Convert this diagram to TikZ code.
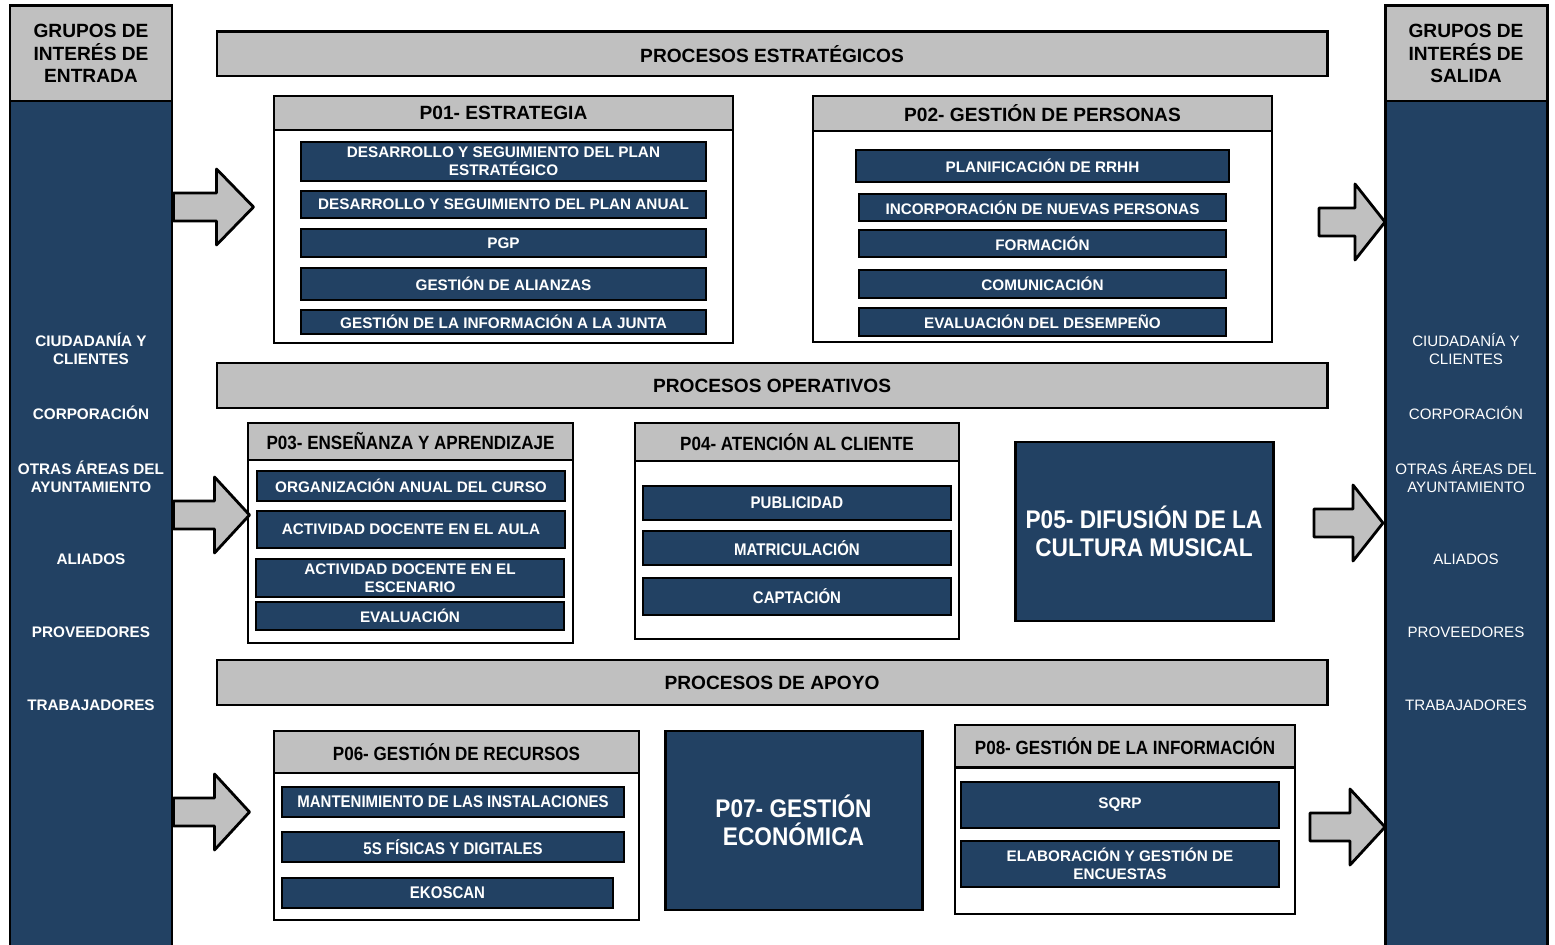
\documentclass[tikz,border=0pt]{standalone}
\usepackage{fontspec}
\setmainfont{Liberation Sans}
\newfontfamily\narrowsf[FakeStretch=0.89]{Liberation Sans}

\definecolor{mapblue}{RGB}{34,65,99}
\definecolor{mapgray}{RGB}{192,192,192}

\tikzset{
  sz/.style 2 args={minimum width=#1*0.02cm, minimum height=#2*0.02cm},
  bar/.style={draw, line width=1.7pt, fill=mapgray, inner sep=0pt, font=\bfseries\fontsize{10.9}{12}\selectfont},
  colhead/.style={bar, align=center, font=\bfseries\fontsize{10.9}{12.8}\selectfont},
  colbody/.style={draw, line width=1.7pt, fill=mapblue, inner sep=0pt},
  grphead/.style={draw, line width=1.6pt, fill=mapgray, inner sep=0pt, font=\bfseries\fontsize{10.9}{12}\selectfont},
  narrowhead/.style={grphead, font=\narrowsf\bfseries\fontsize{10.9}{12}\selectfont},
  grpbody/.style={draw, line width=0.9pt, fill=white, inner sep=0pt},
  item/.style={draw, line width=1.1pt, fill=mapblue, text=white, inner sep=0pt, align=center, font=\bfseries\fontsize{8.7}{10.4}\selectfont},
  narrowitem/.style={item, font=\narrowsf\bfseries\fontsize{9.6}{11}\selectfont},
  bigproc/.style={draw, line width=1.7pt, fill=mapblue, text=white, inner sep=0pt, align=center, font=\narrowsf\bfseries\fontsize{14.5}{16}\selectfont},
  inlabel/.style={text=white, align=center, font=\bfseries\fontsize{8.7}{10.2}\selectfont},
  outlabel/.style={text=white, align=center, font=\fontsize{8.6}{10.2}\selectfont},
  blockarr/.style={draw, line width=1.6pt, fill=mapgray, line join=round},
}

% flecha gruesa: inicio, largo del cuerpo, largo de la punta
\newcommand\bigarrow[3]{%
  \draw[blockarr] (#1) ++(0,-14) -- ++(#2,0) -- ++(0,-24) -- ++(#3,38)
    -- ++(-#3,38) -- ++(0,-24) -- ++(-#2,0) -- cycle;}

\begin{document}
\begin{tikzpicture}[x=0.02cm, y=-0.02cm]
  \useasboundingbox (0,0) rectangle (1555,945);

  % grupos de interés
  \node[colbody, sz={162}{849}] (inbody) at (91,525.5) {};
  \node[colhead, sz={162}{95}] (inhead) at (91,53.5) {GRUPOS DE\\INTERÉS DE\\ENTRADA};
  \node[colbody, sz={162}{849}] (outbody) at (1466,525.5) {};
  \node[colhead, sz={162}{95}] (outhead) at (1466,53.5) {GRUPOS DE\\INTERÉS DE\\SALIDA};

  \node[inlabel] (in1) at (91,349) {CIUDADANÍA Y\\CLIENTES};
  \node[inlabel] (in2) at (91,413) {CORPORACIÓN};
  \node[inlabel] (in3) at (91,477) {OTRAS ÁREAS DEL\\AYUNTAMIENTO};
  \node[inlabel] (in4) at (91,559) {ALIADOS};
  \node[inlabel] (in5) at (91,632) {PROVEEDORES};
  \node[inlabel] (in6) at (91,705) {TRABAJADORES};

  \node[outlabel] (out1) at (1466,349) {CIUDADANÍA Y\\CLIENTES};
  \node[outlabel] (out2) at (1466,413) {CORPORACIÓN};
  \node[outlabel] (out3) at (1466,477) {OTRAS ÁREAS DEL\\AYUNTAMIENTO};
  \node[outlabel] (out4) at (1466,559) {ALIADOS};
  \node[outlabel] (out5) at (1466,632) {PROVEEDORES};
  \node[outlabel] (out6) at (1466,705) {TRABAJADORES};

  % procesos estratégicos
  \node[bar, sz={1110}{44}] (estr) at (772,54) {PROCESOS ESTRATÉGICOS};

  \node[grpbody, sz={459}{213}] (p01body) at (503.5,236.5) {};
  \node[grphead, sz={459}{34}] (p01) at (503.5,113) {P01- ESTRATEGIA};
  \node[item, sz={405}{39}] (p01a) at (503.5,161.5) {DESARROLLO Y SEGUIMIENTO DEL PLAN\\ESTRATÉGICO};
  \node[item, sz={405}{27}] (p01b) at (503.5,204.5) {DESARROLLO Y SEGUIMIENTO DEL PLAN ANUAL};
  \node[item, sz={405}{28}] (p01c) at (503.5,243) {PGP};
  \node[item, sz={405}{32}] (p01d) at (503.5,284) {GESTIÓN DE ALIANZAS};
  \node[item, sz={405}{24}] (p01e) at (503.5,322) {GESTIÓN DE LA INFORMACIÓN A LA JUNTA};

  \node[grpbody, sz={459}{211}] (p02body) at (1042.5,236.5) {};
  \node[grphead, sz={459}{35}] (p02) at (1042.5,113.5) {P02- GESTIÓN DE PERSONAS};
  \node[item, sz={373}{32}] (p02a) at (1042.5,166) {PLANIFICACIÓN DE RRHH};
  \node[item, sz={367}{27}] (p02b) at (1042.5,207.5) {INCORPORACIÓN DE NUEVAS PERSONAS};
  \node[item, sz={367}{27}] (p02c) at (1042.5,243.5) {FORMACIÓN};
  \node[item, sz={367}{28}] (p02d) at (1042.5,284) {COMUNICACIÓN};
  \node[item, sz={367}{28}] (p02e) at (1042.5,322) {EVALUACIÓN DEL DESEMPEÑO};

  % procesos operativos
  \node[bar, sz={1110}{45}] (oper) at (772,385.5) {PROCESOS OPERATIVOS};

  \node[grpbody, sz={325}{183}] (p03body) at (410.5,551.5) {};
  \node[narrowhead, sz={325}{37}] (p03) at (410.5,441.5) {P03- ENSEÑANZA Y APRENDIZAJE};
  \node[item, sz={308}{30}] (p03a) at (411,486) {ORGANIZACIÓN ANUAL DEL CURSO};
  \node[item, sz={308}{37}] (p03b) at (411,529.5) {ACTIVIDAD DOCENTE EN EL AULA};
  \node[item, sz={308}{38}] (p03c) at (410,578) {ACTIVIDAD DOCENTE EN EL\\ESCENARIO};
  \node[item, sz={308}{28}] (p03d) at (410,616) {EVALUACIÓN};

  \node[grpbody, sz={324}{178}] (p04body) at (797,550) {};
  \node[narrowhead, sz={324}{38}] (p04) at (797,442) {P04- ATENCIÓN AL CLIENTE};
  \node[narrowitem, sz={308}{34}] (p04a) at (797,503) {PUBLICIDAD};
  \node[narrowitem, sz={308}{34}] (p04b) at (797,548) {MATRICULACIÓN};
  \node[narrowitem, sz={308}{37}] (p04c) at (797,596.5) {CAPTACIÓN};

  \node[bigproc, sz={258}{179}] (p05) at (1144,531.5) {P05- DIFUSIÓN DE LA\\CULTURA MUSICAL};

  % procesos de apoyo
  \node[bar, sz={1110}{45}] (apoyo) at (772,682.5) {PROCESOS DE APOYO};

  \node[grpbody, sz={365}{147}] (p06body) at (456.5,846.5) {};
  \node[narrowhead, sz={365}{42}] (p06) at (456.5,752) {P06- GESTIÓN DE RECURSOS};
  \node[narrowitem, sz={342}{30}] (p06a) at (453,802) {MANTENIMIENTO DE LAS INSTALACIONES};
  \node[narrowitem, sz={342}{30}] (p06b) at (453,847) {5S FÍSICAS Y DIGITALES};
  \node[narrowitem, sz={331}{30}] (p06c) at (447.5,893) {EKOSCAN};

  \node[bigproc, sz={257}{179}] (p07) at (793.5,820.5) {P07- GESTIÓN\\ECONÓMICA};

  \node[grpbody, sz={340}{146}] (p08body) at (1125,841) {};
  \node[narrowhead, sz={340}{42}] (p08) at (1125,746) {P08- GESTIÓN DE LA INFORMACIÓN};
  \node[item, sz={318}{46}] (p08a) at (1120,805) {SQRP};
  \node[item, sz={318}{46}] (p08b) at (1120,864) {ELABORACIÓN Y GESTIÓN DE\\ENCUESTAS};

  % flechas de entrada y salida
  \coordinate (inA) at (inbody.east |- 0,207);
  \coordinate (inB) at (inbody.east |- 0,515);
  \coordinate (inC) at (inbody.east |- 0,812);
  \coordinate (outA) at (1319,222);
  \coordinate (outB) at (1314,523);
  \coordinate (outC) at (1310,827);
  \bigarrow{inA}{43}{37}
  \bigarrow{inB}{41}{35}
  \bigarrow{inC}{41}{35}
  \bigarrow{outA}{36}{30}
  \bigarrow{outB}{39}{30}
  \bigarrow{outC}{40}{35}
\end{tikzpicture}
\end{document}
